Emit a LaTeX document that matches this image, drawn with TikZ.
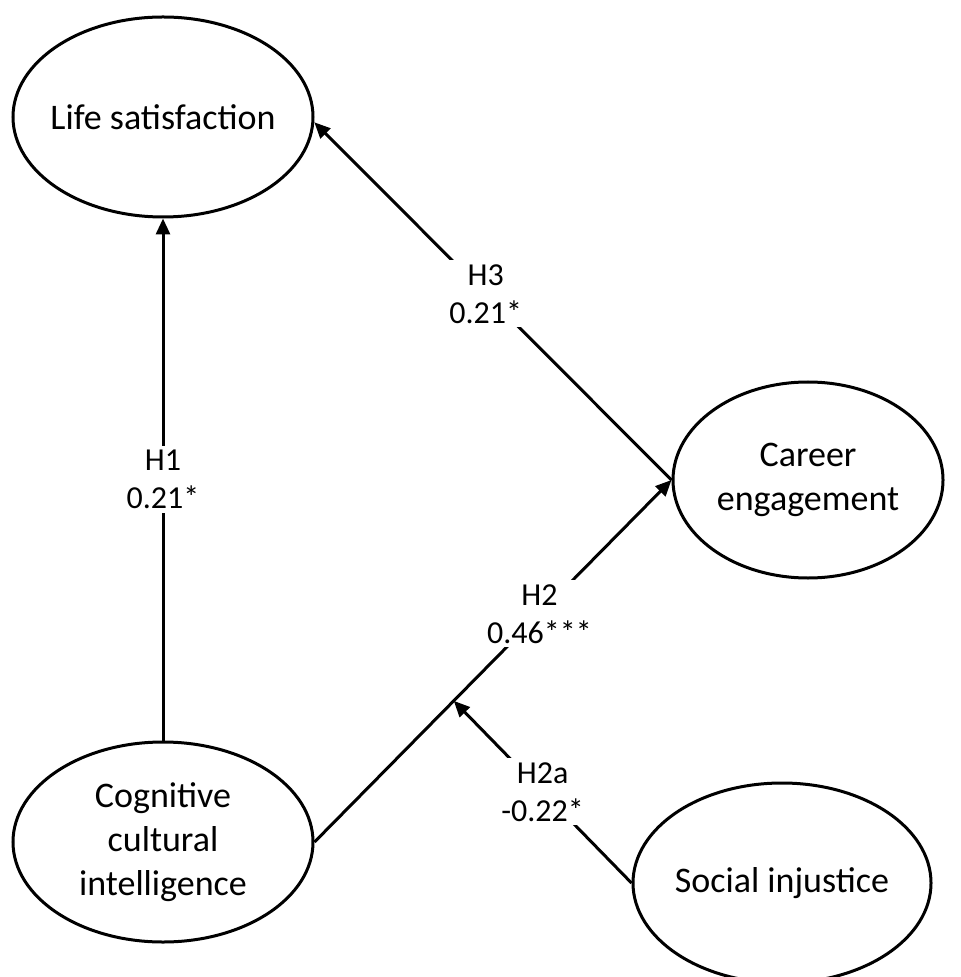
\documentclass[tikz,border=0pt]{standalone}
\usepackage{fontspec}
\setmainfont{Carlito}
\usetikzlibrary{arrows.meta,shapes.geometric}

\begin{document}
\begin{tikzpicture}[
    x=0.5pt, y=-0.5pt,
    font=\fontsize{18}{22}\selectfont,
    construct/.style={draw, ellipse, line width=1.5pt, inner sep=0pt,
                      minimum width=150pt, minimum height=100pt, align=center},
    arr/.style={-{Triangle[length=8pt,width=7pt]}, line width=1.5pt},
    coef/.style={fill=white, inner sep=2pt, align=center,
                 font=\fontsize{16}{19}\selectfont}
  ]
  \useasboundingbox (0,0) rectangle (960,977);
  \node[construct, inner xsep=-4pt] (life) at (163,117) {Life satisfaction};
  \node[construct, minimum width=135pt, minimum height=98pt] (career) at (808,480) {Career\\engagement};
  \node[construct, inner xsep=-6pt, inner ysep=-4pt] (cci) at (163,842) {Cognitive\\cultural\\intelligence};
  \node[construct, inner xsep=-1pt, minimum width=149pt] (social) at (782,883) {Social injustice};

  \draw[arr] (cci) -- node[coef] {H1\\0.21*} (life);
  \draw[arr] (career.west) -- node[coef, pos=0.52] {H3\\0.21*} (life.-2);
  \draw[arr] (cci.east) -- coordinate[pos=0.39] (mod)
    node[coef, pos=0.63] {H2\\0.46***} (career.west);
  \draw[arr] (social.west) -- node[coef] {H2a\\-0.22*} (mod);
\end{tikzpicture}
\end{document}
